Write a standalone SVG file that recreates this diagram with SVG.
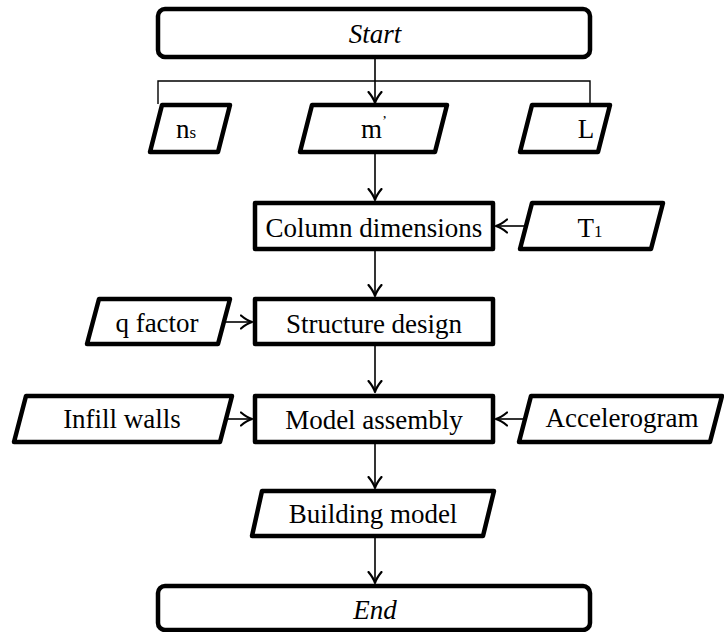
<svg xmlns="http://www.w3.org/2000/svg" width="724" height="632" viewBox="0 0 724 632">
  <style>
    .shape { fill: #ffffff; stroke: #000000; stroke-width: 4.5; stroke-linejoin: round; }
    .link { fill: none; stroke: #000000; stroke-width: 1.6; }
    .thin { fill: none; stroke: #000000; stroke-width: 1.4; }
    .label { font-family: "Liberation Serif", "Times New Roman", serif; font-size: 27px; fill: #000000; text-anchor: middle; }
    .it { font-style: italic; }
  </style>
  <defs>
    <marker id="arrow" viewBox="-12 -8 14 16" refX="0" refY="0" markerWidth="14" markerHeight="16" markerUnits="userSpaceOnUse" orient="auto">
      <path d="M-11,-6.5 Q-5,-1.5 0,0 Q-5,1.5 -11,6.5" fill="none" stroke="#000" stroke-width="2.2" stroke-linecap="round" stroke-linejoin="round"/>
    </marker>
  </defs>

  <rect width="724" height="632" fill="#ffffff"/>

  <!-- connectors -->
  <g id="connectors">
    <polyline class="thin" points="158,104 158,81 590,81 590,104"/>
    <line class="link" x1="375" y1="58" x2="375" y2="103" marker-end="url(#arrow)"/>
    <line class="link" x1="375" y1="152" x2="375" y2="200" marker-end="url(#arrow)"/>
    <line class="link" x1="524" y1="226" x2="496" y2="226" marker-end="url(#arrow)"/>
    <line class="link" x1="375" y1="251" x2="375" y2="296" marker-end="url(#arrow)"/>
    <line class="link" x1="226" y1="322" x2="252" y2="322" marker-end="url(#arrow)"/>
    <line class="link" x1="375" y1="346" x2="375" y2="392" marker-end="url(#arrow)"/>
    <line class="link" x1="227" y1="419" x2="252" y2="419" marker-end="url(#arrow)"/>
    <line class="link" x1="524" y1="419" x2="496" y2="419" marker-end="url(#arrow)"/>
    <line class="link" x1="375" y1="444" x2="375" y2="488" marker-end="url(#arrow)"/>
    <line class="link" x1="375" y1="537" x2="375" y2="583" marker-end="url(#arrow)"/>
  </g>

  <!-- terminal: start -->
  <g id="start">
    <rect class="shape" x="158" y="9" width="432" height="48" rx="7"/>
    <text class="label it" x="375" y="43">Start</text>
  </g>

  <!-- inputs -->
  <g id="ns">
    <polygon class="shape" points="162,105 230,105 218,152 150,152"/>
    <text class="label" x="186" y="138">n<tspan font-size="17">s</tspan></text>
  </g>
  <g id="m">
    <polygon class="shape" points="312,105 447,105 435,152 300,152"/>
    <text class="label" x="374" y="138">m<tspan font-size="15" dy="-12">’</tspan></text>
  </g>
  <g id="L">
    <polygon class="shape" points="532,105 610,105 598,152 520,152"/>
    <text class="label" x="586" y="138">L</text>
  </g>

  <!-- column dimensions -->
  <g id="column-dimensions">
    <rect class="shape" x="255" y="203" width="238" height="46"/>
    <text class="label" x="374" y="237">Column dimensions</text>
  </g>
  <g id="T1">
    <polygon class="shape" points="532,203 663,203 651,249 520,249"/>
    <text class="label" x="590" y="237">T<tspan font-size="17">1</tspan></text>
  </g>

  <!-- structure design -->
  <g id="q-factor">
    <polygon class="shape" points="99,299 230,299 218,344 87,344"/>
    <text class="label" x="157" y="332">q factor</text>
  </g>
  <g id="structure-design">
    <rect class="shape" x="255" y="299" width="238" height="45"/>
    <text class="label" x="374" y="333">Structure design</text>
  </g>

  <!-- model assembly -->
  <g id="infill-walls">
    <polygon class="shape" points="26,396 232,396 220,442 14,442"/>
    <text class="label" x="122" y="428">Infill walls</text>
  </g>
  <g id="model-assembly">
    <rect class="shape" x="255" y="396" width="238" height="46"/>
    <text class="label" x="374" y="429">Model assembly</text>
  </g>
  <g id="accelerogram">
    <polygon class="shape" points="531,396 722,396 710,442 519,442"/>
    <text class="label" x="622" y="427">Accelerogram</text>
  </g>

  <!-- output -->
  <g id="building-model">
    <polygon class="shape" points="262,491 494,491 483,536 252,536"/>
    <text class="label" x="373" y="523">Building model</text>
  </g>

  <!-- terminal: end -->
  <g id="end">
    <rect class="shape" x="158" y="586" width="432" height="44" rx="7"/>
    <text class="label it" x="375" y="619">End</text>
  </g>
</svg>
